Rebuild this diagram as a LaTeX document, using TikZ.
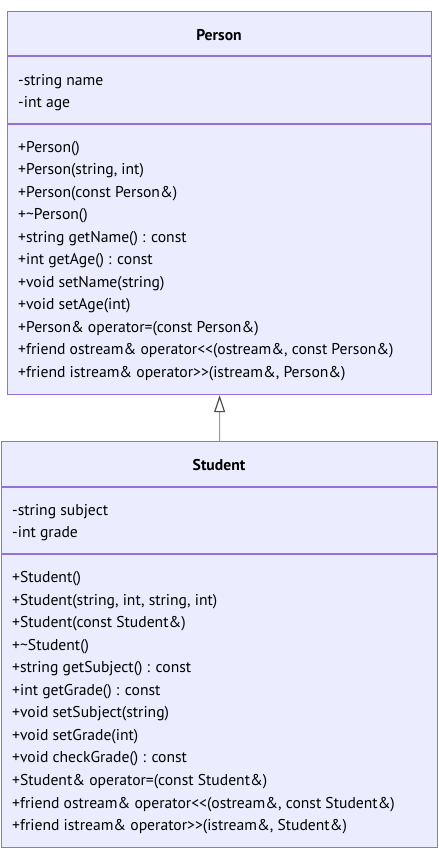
\documentclass[tikz,border=0pt]{standalone}
\usepackage{fontspec}
\setmainfont{PT Sans}
\usetikzlibrary{arrows.meta}
\definecolor{boxfill}{HTML}{ECECFF}
\definecolor{boxline}{HTML}{9370DB}
\definecolor{arrowgray}{HTML}{999999}
\begin{document}
\begin{tikzpicture}[x=1bp,y=-1bp,
  classbox/.style={draw=boxline, fill=boxfill, line width=1.2bp, inner sep=0pt},
  sepline/.style={draw=boxline, line width=1.2bp},
  member/.style={anchor=mid west, inner sep=0pt, yshift=-3bp, font=\fontsize{15.7}{17}\selectfont},
  ctitle/.style={anchor=mid, inner sep=0pt, yshift=-3bp, font=\bfseries\fontsize{15.7}{17}\selectfont},
  inherit/.style={draw=arrowgray, line width=1.2bp, -{Triangle[open, length=17bp, width=11bp, fill=white, color=black!70]}}]
\useasboundingbox (0,0) rectangle (439,856);
% Person
\node[classbox, minimum width=424bp, minimum height=383bp, anchor=north west] (person) at (7,11) {};
\draw[sepline] (7,56) -- (431,56);
\draw[sepline] (7,124) -- (431,124);
\node[ctitle] (ptitle) at (219,35) {Person};
\node[member] (pa1) at (18,80) {-string name};
\node[member] (pa2) at (18,102.5) {-int age};
\foreach \t [count=\i from 0] in {
  {+Person()},
  {+Person(string, int)},
  {+Person(const Person\&)},
  {+\textasciitilde Person()},
  {+string getName() : const},
  {+int getAge() : const},
  {+void setName(string)},
  {+void setAge(int)},
  {+Person\& operator=(const Person\&)},
  {+friend ostream\& operator<{}<(ostream\&, const Person\&)},
  {+friend istream\& operator>{}>(istream\&, Person\&)}}
  \node[member] (pm\i) at (18,147+22.5*\i) {\t};
% Student
\node[classbox, minimum width=436bp, minimum height=406bp, anchor=north west] (student) at (1,441) {};
\draw[sepline] (1,487) -- (437,487);
\draw[sepline] (1,554) -- (437,554);
\node[ctitle] (stitle) at (219,465) {Student};
\node[member] (sa1) at (12,510) {-string subject};
\node[member] (sa2) at (12,532.5) {-int grade};
\foreach \t [count=\i from 0] in {
  {+Student()},
  {+Student(string, int, string, int)},
  {+Student(const Student\&)},
  {+\textasciitilde Student()},
  {+string getSubject() : const},
  {+int getGrade() : const},
  {+void setSubject(string)},
  {+void setGrade(int)},
  {+void checkGrade() : const},
  {+Student\& operator=(const Student\&)},
  {+friend ostream\& operator<{}<(ostream\&, const Student\&)},
  {+friend istream\& operator>{}>(istream\&, Student\&)}}
  \node[member] (sm\i) at (12,577+22.55*\i) {\t};
% inheritance
\draw[inherit] (student.north) -- (person.south);
\end{tikzpicture}
\end{document}
